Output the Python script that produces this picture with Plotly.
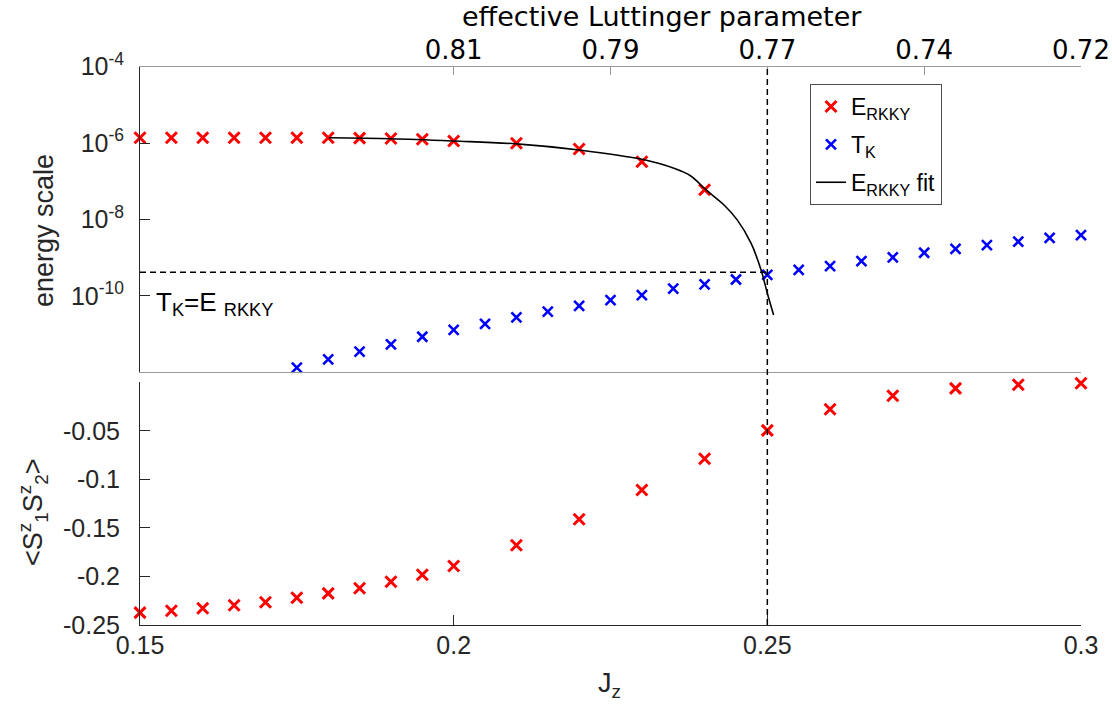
import plotly.graph_objects as go

W, H = 1112, 708


def px(x):
    return x / W


def py(y):
    return 1 - y / H


# ---------------- data ----------------
J_erkky = [0.15, 0.155, 0.16, 0.165, 0.17, 0.175, 0.18, 0.185, 0.19, 0.195, 0.2,
           0.21, 0.22, 0.23, 0.24]
E_rkky = [1.38e-6, 1.38e-6, 1.38e-6, 1.38e-6, 1.38e-6, 1.38e-6, 1.38e-6, 1.35e-6,
          1.32e-6, 1.26e-6, 1.135e-6, 9.9e-7, 7.0e-7, 3.24e-7, 6.0e-8]

J_tk = [0.175, 0.18, 0.185, 0.19, 0.195, 0.2, 0.205, 0.21, 0.215, 0.22,
        0.225, 0.23, 0.235, 0.24, 0.245, 0.25, 0.255, 0.26, 0.265, 0.27,
        0.275, 0.28, 0.285, 0.29, 0.295, 0.3]
T_k = [1.32e-12, 2.19e-12, 3.47e-12, 5.37e-12, 8.51e-12, 1.29e-11, 1.86e-11,
       2.75e-11, 3.89e-11, 5.50e-11, 7.76e-11, 1.05e-10, 1.55e-10, 2.0e-10,
       2.69e-10, 3.55e-10, 4.79e-10, 6.03e-10, 8.13e-10, 1.02e-9, 1.35e-9,
       1.70e-9, 2.14e-9, 2.63e-9, 3.31e-9, 3.89e-9]

J_fit = [0.1801, 0.19, 0.2, 0.21, 0.22, 0.2302, 0.2351, 0.2378, 0.2402, 0.2431,
         0.2452, 0.2474, 0.2490, 0.2500, 0.2510]
E_fit = [1.38e-6, 1.30e-6, 1.135e-6, 9.55e-7, 6.61e-7, 3.70e-7, 2.19e-7, 1.38e-7,
         6.03e-8, 2.40e-8, 9.77e-9, 2.40e-9, 4.79e-10, 1.17e-10, 3.16e-11]

J_corr = [0.15, 0.155, 0.16, 0.165, 0.17, 0.175, 0.18, 0.185, 0.19, 0.195, 0.2,
          0.21, 0.22, 0.23, 0.24, 0.25, 0.26, 0.27, 0.28, 0.29, 0.3]
SzSz = [-0.2373, -0.2353, -0.2328, -0.2297, -0.2266, -0.2219, -0.2174, -0.2122,
        -0.2054, -0.1982, -0.1892, -0.1679, -0.1411, -0.1109, -0.0787, -0.0495,
        -0.0278, -0.0138, -0.0062, -0.0025, -0.0010]

J_cross = 0.25
E_cross = 4.15e-10
J_start = 0.15

x_ticks = [0.15, 0.2, 0.25, 0.3]
x_ticktext = ["0.15", "0.2", "0.25", "0.3"]
top_ticks = [0.2, 0.225, 0.25, 0.275, 0.3]
top_ticktext = ["0.81", "0.79", "0.77", "0.74", "0.72"]
upper_y_ticks = [1e-4, 1e-6, 1e-8, 1e-10]
upper_y_ticktext = ["10<sup>-4</sup>", "10<sup>-6</sup>", "10<sup>-8</sup>", "10<sup>-10</sup>"]
lower_y_ticks = [-0.25, -0.2, -0.15, -0.1, -0.05]
lower_y_ticktext = ["-0.25", "-0.2", "-0.15", "-0.1", "-0.05"]

# ---------------- style ----------------
RED = "#ff0000"
BLUE = "#0000ff"
DARK = "#262626"
GRAY = "#9a9a9a"
HELV = "Liberation Sans, Arial, sans-serif"
DEJA = "DejaVu Sans, sans-serif"

fig = go.Figure()

fig.add_trace(go.Scatter(
    x=J_erkky, y=E_rkky, xaxis="x2", yaxis="y2", mode="markers",
    name="E<sub>RKKY</sub>", cliponaxis=False, legendgroup="a",
    marker=dict(symbol="x-thin", size=11, color=RED, line=dict(width=3, color=RED))))
fig.add_trace(go.Scatter(
    x=J_tk, y=T_k, xaxis="x2", yaxis="y2", mode="markers",
    name="T<sub>K</sub>", cliponaxis=False, legendgroup="b",
    marker=dict(symbol="x-thin", size=10, color=BLUE, line=dict(width=2.6, color=BLUE))))
fig.add_trace(go.Scatter(
    x=J_fit, y=E_fit, xaxis="x2", yaxis="y2", mode="lines", legendgroup="c",
    name="E<sub>RKKY</sub> fit", line=dict(color="black", width=1.6, shape="spline")))
fig.add_trace(go.Scatter(
    x=[J_start, J_cross], y=[E_cross, E_cross], xaxis="x2", yaxis="y2", mode="lines",
    showlegend=False, line=dict(color="black", width=1.5, dash="6px,4px")))
fig.add_trace(go.Scatter(
    x=J_corr, y=SzSz, xaxis="x", yaxis="y", mode="markers", showlegend=False,
    cliponaxis=False,
    marker=dict(symbol="x-thin", size=11, color=RED, line=dict(width=3, color=RED))))

dom_x = [px(140), px(1081)]
tick_font = dict(family=HELV, size=25, color=DARK)

fig.update_layout(
    width=W, height=H,
    margin=dict(l=0, r=0, t=0, b=0, autoexpand=False),
    paper_bgcolor="white", plot_bgcolor="white",
    xaxis=dict(domain=dom_x, anchor="y", range=[0.15, 0.3], tickvals=x_ticks,
               ticktext=x_ticktext, ticks="inside", ticklen=10, tickcolor=DARK,
               showline=True, linecolor=DARK, linewidth=1, showgrid=False,
               zeroline=False, tickfont=tick_font, ticklabelstandoff=-2,
               automargin=False),
    xaxis2=dict(domain=dom_x, anchor="y2", range=[0.15, 0.3], showticklabels=False,
                ticks="", showline=True, linecolor=GRAY, linewidth=1.2,
                showgrid=False, zeroline=False, automargin=False),
    xaxis3=dict(overlaying="x2", anchor="y2", side="top", range=[0.15, 0.3],
                tickvals=top_ticks, ticktext=top_ticktext, ticks="inside", ticklen=8,
                tickcolor=GRAY, showline=True, linecolor=GRAY, linewidth=1.2,
                showgrid=False, zeroline=False, automargin=False,
                tickfont=dict(family=DEJA, size=26, color="black"), ticklabelstandoff=-4),
    yaxis=dict(domain=[py(625), py(382.3)], anchor="x", range=[-0.25, 0],
               tickvals=lower_y_ticks, ticktext=lower_y_ticktext, ticks="inside",
               ticklen=10, tickcolor=DARK, showline=True, linecolor=DARK, linewidth=1,
               showgrid=False, zeroline=False, tickfont=tick_font, ticklabelstandoff=14,
               automargin=False),
    yaxis2=dict(domain=[py(372.3), py(66.7)], anchor="x2", type="log", range=[-12, -4],
                tickvals=upper_y_ticks, ticktext=upper_y_ticktext, ticks="inside",
                ticklen=10, tickcolor=DARK, showline=True, linecolor=DARK, linewidth=1,
                showgrid=False, zeroline=False, tickfont=tick_font, ticklabelstandoff=10,
                automargin=False),
    showlegend=True,
    legend=dict(x=px(810), y=py(84), xanchor="left", yanchor="top",
                bgcolor="white", bordercolor="#4d4d4d", borderwidth=1,
                font=dict(family=HELV, size=23, color="black"),
                tracegroupgap=5, itemwidth=30),
)

# invisible trace to activate the top axis
fig.add_trace(go.Scatter(x=[0.15, 0.3], y=[1e-4, 1e-4], xaxis="x3", yaxis="y2",
                         mode="markers", marker=dict(opacity=0), showlegend=False,
                         hoverinfo="skip"))

fig.add_shape(type="line", xref="x", yref="paper", x0=J_cross, x1=J_cross,
              y0=py(625), y1=py(66.7),
              line=dict(color="black", width=1.5, dash="6px,4px"))

ann = [
    dict(text="effective Luttinger parameter", x=px(662), y=py(17),
         font=dict(family=DEJA, size=27, color="black")),
    dict(text="energy scale", x=px(44), y=py(231), textangle=-90,
         font=dict(family=HELV, size=27, color=DARK)),
    dict(text="&lt;S<sup>z</sup><sub>1</sub>S<sup>z</sup><sub>2</sub>&gt;", x=px(33), y=py(512),
         textangle=-90, font=dict(family=HELV, size=27, color=DARK)),
    dict(text="J<sub>z</sub>", x=px(609), y=py(685),
         font=dict(family=HELV, size=27, color=DARK)),
    dict(text="T<sub>K</sub>=E <sub>RKKY</sub>", x=px(154), y=py(303), xanchor="left",
         font=dict(family=HELV, size=26, color="black")),
]
for a in ann:
    a.setdefault("xanchor", "center")
    fig.add_annotation(xref="paper", yref="paper", showarrow=False, yanchor="middle", **a)

fig.write_html("out.html")
